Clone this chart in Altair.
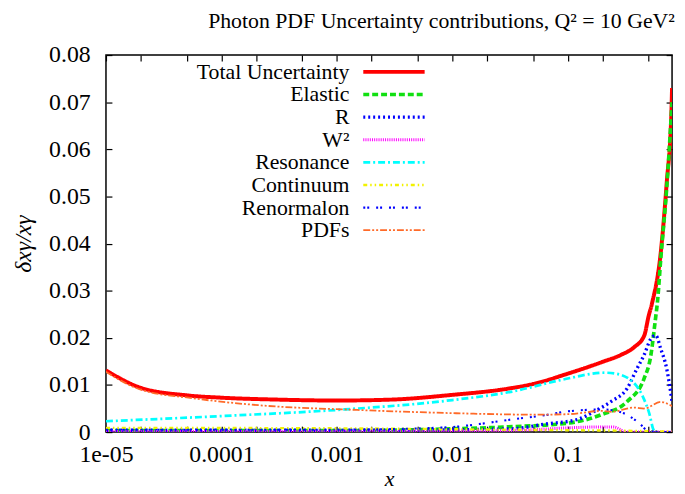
import altair as alt
import pandas as pd

# ---------------- data ----------------
series = ["Total Uncertainty", "Elastic", "R", "W²", "Resonance", "Continuum", "Renormalon", "PDFs"]
colors = ["#ff0000", "#11e011", "#0000ff", "#ff00ff", "#00ffff", "#f2f200", "#0000ff", "#ff6a28"]
dashes = [[1, 0], [6, 3], [2, 3], [1, 1.2], [7, 3, 2, 3], [4, 3, 1.5, 3, 1.5, 3], [2, 2, 2, 7], [7, 2, 2, 2, 2, 2]]
widths = [4, 1.8, 2.4, 1.5, 2, 1.8, 2.4, 2]

total_x = [1e-5, 2e-5, 5e-5, 1e-4, 3e-4, 1e-3, 3e-3, 1e-2, 3e-2, 5e-2, 0.1, 0.2, 0.29, 0.375, 0.46, 0.5, 0.535, 0.638, 0.718, 0.79, 0.8]
total_y = [0.0131, 0.0094, 0.0078, 0.0073, 0.0069, 0.0067, 0.0069, 0.0079, 0.0092, 0.0102, 0.0124, 0.0149, 0.0164, 0.0180, 0.0205, 0.0245, 0.0272, 0.0380, 0.0527, 0.0680, 0.0730]

elastic_x = [1e-5, 1e-3, 1e-2, 3e-2, 0.1, 0.196, 0.327, 0.457, 0.525, 0.57, 0.6, 0.64, 0.72, 0.8]
elastic_y = [0.0003, 0.0003, 0.0007, 0.0011, 0.0019, 0.0037, 0.0065, 0.0113, 0.0164, 0.0233, 0.0280, 0.0370, 0.0520, 0.0700]

r_x = [1e-5, 1e-3, 1e-2, 0.033, 0.0635, 0.122, 0.17, 0.238, 0.327, 0.398, 0.457, 0.525, 0.578, 0.638, 0.718, 0.8]
r_y = [0.0004, 0.0004, 0.0005, 0.0007, 0.0017, 0.0027, 0.0044, 0.0065, 0.0093, 0.0135, 0.0163, 0.0198, 0.0205, 0.0177, 0.0135, 0.0065]

w2_x = [1e-5, 1e-2, 0.05, 0.1, 0.2, 0.25, 0.29, 0.31, 0.8]
w2_y = [0.0001, 0.0002, 0.0005, 0.0009, 0.0011, 0.0011, 0.0004, 0.0, 0.0]

res_x = [1e-5, 1e-4, 1e-3, 1e-2, 0.033, 0.089, 0.21, 0.26, 0.375, 0.457, 0.51, 0.55, 0.57]
res_y = [0.0023, 0.0034, 0.0047, 0.0068, 0.0086, 0.0111, 0.0126, 0.0124, 0.0104, 0.0070, 0.0038, 0.0006, 0.0]

cont_x = [1e-5, 1e-3, 1e-2, 0.1, 0.3, 0.8]
cont_y = [0.0009, 0.0008, 0.0006, 0.0004, 0.0003, 0.0001]

renorm_x = [1e-5, 1e-3, 0.0089, 0.017, 0.033, 0.064, 0.1, 0.2, 0.26, 0.33, 0.42, 0.5, 0.8]
renorm_y = [0.0005, 0.0005, 0.0010, 0.0017, 0.0027, 0.0036, 0.0044, 0.0048, 0.0045, 0.0036, 0.0018, 0.0002, 0.0]

pdf_x = [1e-5, 2e-5, 5.6e-5, 2.1e-4, 1.5e-3, 1.08e-2, 0.052, 0.1, 0.2, 0.238, 0.375, 0.457, 0.64, 0.8]
pdf_y = [0.0128, 0.0090, 0.0072, 0.0057, 0.0047, 0.0040, 0.0037, 0.0038, 0.0045, 0.0043, 0.0052, 0.0050, 0.0064, 0.0055]

x_ticks = [1e-5, 1e-4, 1e-3, 1e-2, 1e-1]
x_labels = ["1e-05", "0.0001", "0.001", "0.01", "0.1"]
x_minor = [2e-5, 5e-5, 2e-4, 5e-4, 2e-3, 5e-3, 2e-2, 5e-2, 0.2, 0.5]
y_ticks = [0, 0.01, 0.02, 0.03, 0.04, 0.05, 0.06, 0.07, 0.08]
y_labels = ["0", "0.01", "0.02", "0.03", "0.04", "0.05", "0.06", "0.07", "0.08"]

all_x = [total_x, elastic_x, r_x, w2_x, res_x, cont_x, renorm_x, pdf_x]
all_y = [total_y, elastic_y, r_y, w2_y, res_y, cont_y, renorm_y, pdf_y]

rows = []
for i, (name, xs, ys) in enumerate(zip(series, all_x, all_y)):
    for xv, yv in zip(xs, ys):
        rows.append({"series": name, "order": i, "x": xv, "v": yv})
df = pd.DataFrame(rows)
leg = pd.DataFrame({"series": series, "order": list(range(len(series)))})

FONT = "Liberation Serif"


def label_expr(ticks, labels):
    expr = "''"
    for t, l in reversed(list(zip(ticks, labels))):
        cond = "datum.value == 0" if t == 0 else f"abs(datum.value - {t}) < {t * 0.01}"
        expr = f"{cond} ? '{l}' : " + expr
    return expr


xscale = alt.Scale(type="log", domain=[1e-5, 0.8], nice=False)
yscale = alt.Scale(domain=[0, 0.08], nice=False)
cscale = alt.Scale(domain=series, range=colors)
dscale = alt.Scale(domain=series, range=dashes)
wscale = alt.Scale(domain=series, range=widths)
TK = 6

lines = alt.Chart(df).mark_line(interpolate="monotone", clip=True).encode(
    x=alt.X("x:Q", scale=xscale, title="x",
            axis=alt.Axis(values=x_ticks + x_minor, labelExpr=label_expr(x_ticks, x_labels),
                          offset=-TK, tickSize=TK, domain=False, labelPadding=11, labelFlush=False,
                          titleFontStyle="italic", titlePadding=2, titleFontSize=22)),
    y=alt.Y("v:Q", scale=yscale, title="δxγ/xγ",
            axis=alt.Axis(values=y_ticks, labelExpr=label_expr(y_ticks, y_labels),
                          offset=-TK, tickSize=TK, domain=False, labelPadding=16, labelFlush=False,
                          titleFontStyle="italic", titlePadding=13)),
    color=alt.Color("series:N", scale=cscale, legend=None),
    strokeDash=alt.StrokeDash("series:N", scale=dscale, legend=None),
    strokeWidth=alt.StrokeWidth("series:N", scale=wscale, legend=None),
    order=alt.Order("order:Q"),
    detail="series:N",
)

mirror = alt.Chart(df).mark_line(opacity=0).encode(
    x=alt.X("x:Q", scale=xscale, title=None,
            axis=alt.Axis(orient="top", values=x_ticks + x_minor, labels=False, offset=-TK, tickSize=TK, domain=False)),
    y=alt.Y("v:Q", scale=yscale, title=None,
            axis=alt.Axis(orient="right", values=y_ticks, labels=False, offset=-TK, tickSize=TK, domain=False)),
)

plot = alt.layer(lines, mirror).resolve_axis(x="independent", y="independent")

lyscale = alt.Scale(domain=[0, len(series) - 1], range=[17, 177])
leg_text = alt.Chart(leg).mark_text(align="right", baseline="middle", font=FONT, fontSize=22, color="#000000").encode(
    x=alt.value(246),
    y=alt.Y("order:Q", scale=lyscale, axis=None),
    text="series:N",
)
leg_line = alt.Chart(leg).mark_rule().encode(
    x=alt.value(260), x2=alt.value(322),
    y=alt.Y("order:Q", scale=lyscale, axis=None),
    color=alt.Color("series:N", scale=cscale, legend=None),
    strokeDash=alt.StrokeDash("series:N", scale=dscale, legend=None),
    strokeWidth=alt.StrokeWidth("series:N", scale=wscale, legend=None),
)
legend = alt.layer(leg_text, leg_line)

chart = alt.layer(plot, legend).resolve_scale(y="independent").resolve_axis(y="independent").properties(
    width=572, height=381,
    title=alt.TitleParams("Photon PDF Uncertainty contributions, Q² = 10 GeV²", font=FONT,
                          fontSize=22, fontWeight="normal", anchor="middle", frame="group",
                          dx=53, offset=10),
    padding={"left": 4, "top": 0, "right": 2, "bottom": 0},
).configure_view(stroke="#000000", strokeWidth=1.5).configure_axis(
    labelFont=FONT, labelFontSize=24, titleFont=FONT, titleFontSize=24, titleFontWeight="normal",
    tickColor="#000000", labelColor="#000000", titleColor="#000000", tickWidth=1.2, grid=False,
)

chart.save("out.html", embed_options={"renderer": "svg", "actions": False})
